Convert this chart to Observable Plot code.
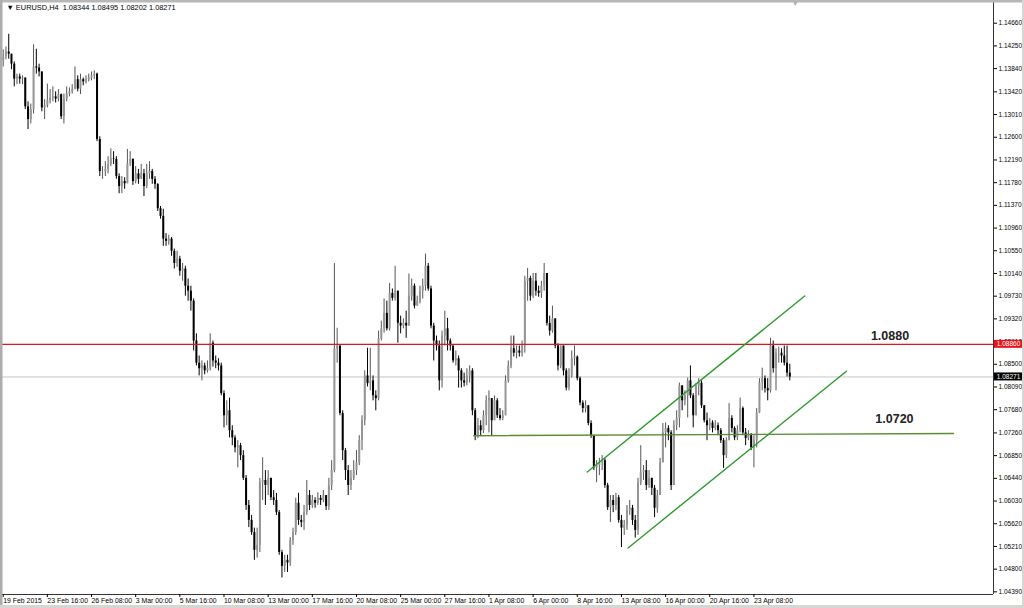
<!DOCTYPE html>
<html><head><meta charset="utf-8">
<script src="https://cdn.jsdelivr.net/npm/d3@7"></script>
<script src="https://cdn.jsdelivr.net/npm/@observablehq/plot@0.6"></script>
<style>
html,body{margin:0;padding:0;background:#fff;}
#chart{position:relative;width:1024px;height:608px;overflow:hidden;}
svg{display:block;}
</style></head><body><div id="chart"></div>
<script>
// ---- data (prices in 1/10000, H4 bars from 19 Feb 2015 00:00) ----
const symbolTitle = "EURUSD,H4";
const titleQuote = [1.08344, 1.08495, 1.08202, 1.08271];
const firstOpen = 11398;
const closes = [
11405,11414,11410,11392,11365,11369,11365,11367,11315,11292,
11310,11387,11385,11378,11313,11317,11326,11331,11333,11329,
11337,11297,11329,11338,11342,11346,11364,11347,11364,11360,
11364,11367,11371,11374,11256,11198,11198,11202,11211,11221,
11220,11189,11171,11180,11176,11212,11220,11180,11194,11184,
11194,11171,11194,11198,11184,11175,11131,11117,11076,11072,
11076,11054,11032,11040,11018,11022,10991,10982,10964,10892,
10852,10842,10847,10838,10842,10888,10856,10852,10847,10797,
10757,10766,10730,10717,10699,10703,10685,10644,10595,10568,
10546,10514,10523,10636,10640,10631,10644,10609,10604,10582,
10510,10485,10496,10491,10532,10546,10599,10568,10564,10582,
10613,10595,10604,10599,10608,10604,10613,10593,10631,10658,
10878,10883,10761,10694,10658,10631,10644,10658,10672,10712,
10748,10829,10815,10820,10793,10788,10896,10914,10942,10914,
10978,10969,10982,10924,10919,10924,10919,10973,10991,10955,
10964,10982,10991,11027,10986,10919,10892,10883,10820,10901,
10914,10892,10883,10856,10860,10838,10820,10816,10829,10838,
10766,10721,10739,10730,10757,10784,10788,10748,10784,10757,
10752,10757,10820,10847,10878,10870,10874,10870,10883,11000,
11005,10973,11000,10982,10978,10991,11014,10924,10910,10932,
10883,10847,10883,10838,10807,10829,10860,10863,10824,10780,
10770,10775,10743,10721,10663,10667,10672,10676,10631,10591,
10604,10595,10609,10568,10554,10559,10586,10590,10568,10550,
10636,10654,10658,10631,10644,10626,10590,10613,10672,10726,
10734,10726,10631,10739,10752,10811,10784,10793,10820,10793,
10757,10811,10816,10775,10748,10739,10744,10734,10739,10730,
10712,10685,10712,10752,10734,10717,10730,10770,10726,10716,
10721,10699,10712,10762,10816,10824,10806,10802,10883,10842,
10870,10870,10865,10852,10834,10827
];
const highs = [
11418,11423,11446,11410,11396,11374,11374,11371,11367,11324,
11320,11427,11419,11392,11378,11328,11356,11346,11351,11342,
11346,11338,11338,11351,11349,11355,11387,11371,11374,11367,
11371,11374,11378,11380,11376,11261,11207,11216,11225,11239,
11234,11225,11194,11189,11187,11238,11234,11221,11207,11202,
11211,11202,11211,11216,11202,11189,11176,11135,11130,11086,
11083,11079,11058,11054,11045,11032,11027,11004,10991,10968,
10905,10865,10856,10852,10856,10905,10892,10865,10860,10852,
10802,10784,10789,10739,10721,10712,10707,10694,10649,10604,
10577,10554,10554,10644,10681,10658,10658,10640,10622,10617,
10586,10514,10505,10505,10537,10554,10608,10617,10577,10595,
10640,10622,10613,10609,10618,10613,10622,10613,10644,10676,
11032,10915,10883,10766,10698,10667,10658,10676,10694,10721,
10757,10838,10879,10879,10829,10802,10910,10928,10968,10964,
10996,10986,11027,10982,10937,10932,10946,11013,11004,10995,
10973,10991,11004,11049,11032,10991,10924,10901,10892,10910,
10946,10933,10896,10883,10874,10865,10842,10834,10842,10847,
10842,10770,10752,10748,10766,10793,10802,10788,10793,10788,
10770,10766,10829,10856,10901,10901,10883,10883,10892,11009,
11023,11009,11014,11014,10991,11000,11032,11014,10937,10955,
10932,10887,10883,10883,10842,10842,10874,10883,10865,10827,
10784,10784,10775,10748,10721,10676,10680,10685,10680,10635,
10613,10613,10617,10613,10577,10568,10595,10604,10595,10577,
10644,10703,10667,10676,10658,10644,10631,10622,10680,10743,
10744,10739,10730,10748,10766,10816,10811,10802,10825,10847,
10797,10815,10824,10820,10775,10762,10752,10748,10748,10744,
10734,10716,10717,10779,10757,10737,10739,10789,10773,10734,
10730,10725,10721,10770,10824,10843,10829,10824,10897,10892,
10878,10881,10878,10883,10883,10850
];
const lows = [
11387,11400,11401,11382,11351,11355,11356,11355,11310,11274,
11284,11302,11374,11369,11306,11292,11313,11320,11324,11322,
11324,11292,11284,11324,11333,11338,11346,11342,11337,11353,
11356,11360,11362,11364,11252,11189,11184,11189,11194,11207,
11211,11184,11158,11158,11166,11176,11207,11173,11176,11175,
11184,11153,11167,11184,11175,11166,11126,11112,11063,11063,
11065,11045,11022,11025,11009,11000,10973,10964,10946,10874,
10847,10829,10820,10831,10834,10838,10845,10842,10838,10793,
10735,10739,10717,10703,10690,10663,10676,10640,10586,10555,
10541,10496,10500,10510,10604,10595,10613,10604,10595,10577,
10505,10464,10474,10474,10485,10523,10541,10559,10555,10550,
10577,10586,10590,10590,10595,10595,10600,10586,10586,10622,
10654,10852,10757,10676,10640,10613,10622,10640,10649,10667,
10694,10739,10809,10802,10784,10766,10784,10892,10906,10910,
10910,10964,10964,10888,10905,10914,10897,10919,10964,10950,
10955,10959,10968,10982,10982,10914,10856,10874,10802,10807,
10883,10874,10874,10852,10847,10807,10807,10809,10811,10816,
10757,10712,10716,10721,10725,10739,10726,10721,10757,10752,
10748,10748,10762,10816,10842,10863,10860,10863,10863,10870,
10964,10964,10969,10973,10971,10969,10982,10919,10901,10906,
10878,10838,10842,10829,10802,10802,10825,10847,10820,10775,
10762,10762,10739,10716,10658,10636,10649,10658,10626,10586,
10564,10582,10586,10563,10519,10541,10550,10577,10559,10536,
10541,10631,10640,10622,10626,10613,10573,10581,10613,10672,
10699,10712,10622,10631,10730,10735,10766,10775,10753,10788,
10735,10766,10793,10770,10744,10712,10730,10726,10730,10721,
10707,10662,10680,10712,10726,10712,10712,10726,10721,10703,
10712,10694,10663,10699,10761,10802,10798,10784,10798,10834,
10802,10852,10852,10847,10827,10820
];
const xTickBars = [0,16,32,48,64,80,96,112,128,144,160,176,192,208,224,240,256,272];
const xTickLabels = ["19 Feb 2015","23 Feb 16:00","26 Feb 08:00","3 Mar 00:00","5 Mar 16:00","10 Mar 08:00","13 Mar 00:00","17 Mar 16:00","20 Mar 08:00","25 Mar 00:00","27 Mar 16:00","1 Apr 08:00","6 Apr 00:00","8 Apr 16:00","13 Apr 08:00","16 Apr 00:00","20 Apr 16:00","23 Apr 08:00"];
const yTickValues = [1.04390,1.04800,1.05210,1.05620,1.06030,1.06440,1.06850,1.07260,1.07680,1.08090,1.08500,1.08910,1.09320,1.09730,1.10140,1.10550,1.10960,1.11370,1.11780,1.12190,1.12600,1.13010,1.13420,1.13840,1.14250,1.14660];
const resistanceLevel = 1.0886;
const lastPrice = 1.08271;
const supportLine = [{bar:170.5, price:1.0721},{bar:344.3, price:1.0725}];
const channelUpper = [{bar:211.6, price:1.06555},{bar:290.4, price:1.09732}];
const channelLower = [{bar:226.4, price:1.05183},{bar:305.5, price:1.08373}];
const levelNotes = [{label:"1.0880", bar:321.3, price:1.0901},{label:"1.0720", bar:322.9, price:1.0751}];

// ---- build ----
const bars = closes.map((c, i) => {
  const o = (i === 0 ? firstOpen : closes[i - 1]) / 1e4;
  const cl = c / 1e4;
  return {i, open: o, close: cl,
    high: Math.max(highs[i] / 1e4, o, cl),
    low: Math.min(lows[i] / 1e4, o, cl),
    bull: cl >= o};
});
const bull = bars.filter(d => d.bull), bear = bars.filter(d => !d.bull);
const labelMap = new Map(xTickBars.map((b, k) => [b, xTickLabels[k]]));
const xDomain = [-0.978, 358.8];
const yDomain = [1.04342, 1.15070];
const font = "Liberation Sans, Arial, sans-serif";
const titleText = "\u25BC " + symbolTitle + "  " + titleQuote.map(v => v.toFixed(5)).join(" ");

const chart = Plot.plot({
  width: 1024, height: 608,
  marginLeft: 0, marginRight: 31, marginTop: 0, marginBottom: 14,
  x: {domain: xDomain},
  y: {domain: yDomain},
  style: {fontFamily: font, background: "#fff", color: "#000"},
  marks: [
    Plot.ruleY([lastPrice], {stroke: "#c6c6c6", strokeWidth: 1}),
    Plot.ruleX(bull, {x: "i", y1: "low", y2: "high", stroke: "#555", strokeWidth: 1}),
    Plot.ruleX(bear, {x: "i", y1: "low", y2: "high", stroke: "#000", strokeWidth: 1}),
    Plot.ruleX(bull, {x: "i", y1: "open", y2: "close", stroke: "#959595", strokeWidth: 2}),
    Plot.ruleX(bear, {x: "i", y1: "open", y2: "close", stroke: "#000", strokeWidth: 2}),
    Plot.ruleY([resistanceLevel], {stroke: "#e0161c", strokeWidth: 1.3}),
    Plot.line(supportLine, {x: "bar", y: "price", stroke: "#5b8b35", strokeWidth: 1.4}),
    Plot.line(channelUpper, {x: "bar", y: "price", stroke: "#2f9a2f", strokeWidth: 1.4}),
    Plot.line(channelLower, {x: "bar", y: "price", stroke: "#2f9a2f", strokeWidth: 1.4}),
    Plot.text(levelNotes, {x: "bar", y: "price", text: "label", fontSize: 12.5, fontWeight: "bold", fill: "#222", textAnchor: "middle", lineAnchor: "middle"}),
    Plot.text([titleText], {frameAnchor: "top-left", dx: 6, dy: 4, textAnchor: "start", lineAnchor: "top", fontSize: 7.4, fill: "#000"}),
    Plot.text(["\u25BC"], {x: () => closes.length + 1, frameAnchor: "top", dy: 1, lineAnchor: "top", fontSize: 7, fill: "#b0b0b0"}),
    Plot.ruleX([xDomain[1]], {stroke: "#333", strokeWidth: 1}),
    Plot.ruleY([yDomain[0]], {stroke: "#333", strokeWidth: 1}),
    Plot.axisX({ticks: xTickBars, tickFormat: d => labelMap.get(d), tickSize: 3, tickPadding: 1, textAnchor: "start", dx: 0, fontSize: 6.9}),
    Plot.axisY({anchor: "right", ticks: yTickValues, tickFormat: d => d.toFixed(5), tickSize: 3, tickPadding: 2, fontSize: 6.5})
  ]
});
document.getElementById("chart").appendChild(chart);

// price boxes on the price axis, placed through Plot's own y scale
const svg = d3.select(chart);
const ys = chart.scale("y");
const boxX = 1024 - 31 + 1;
[[resistanceLevel, "#e8141c"], [lastPrice, "#000"]].forEach(([v, col]) => {
  const yy = ys.apply(v);
  svg.append("rect").attr("x", boxX).attr("y", yy - 4).attr("width", 29).attr("height", 8).attr("fill", col);
  svg.append("text").attr("x", boxX + 14.5).attr("y", yy).attr("dy", "0.35em")
    .attr("text-anchor", "middle").attr("fill", "#fff").attr("font-size", 6.5)
    .attr("font-family", font).text(v.toFixed(5));
});
// window frame strips
svg.append("rect").attr("x", 0).attr("y", 0).attr("width", 1024).attr("height", 2.5).attr("fill", "#b7b7b7");
svg.append("rect").attr("x", 0).attr("y", 0).attr("width", 2.5).attr("height", 608).attr("fill", "#acacac");
svg.append("rect").attr("x", 0).attr("y", 605).attr("width", 1024).attr("height", 3).attr("fill", "#d8d6d2");
svg.append("rect").attr("x", 1022).attr("y", 0).attr("width", 2).attr("height", 608).attr("fill", "#d8d6d2");
</script></body></html>
